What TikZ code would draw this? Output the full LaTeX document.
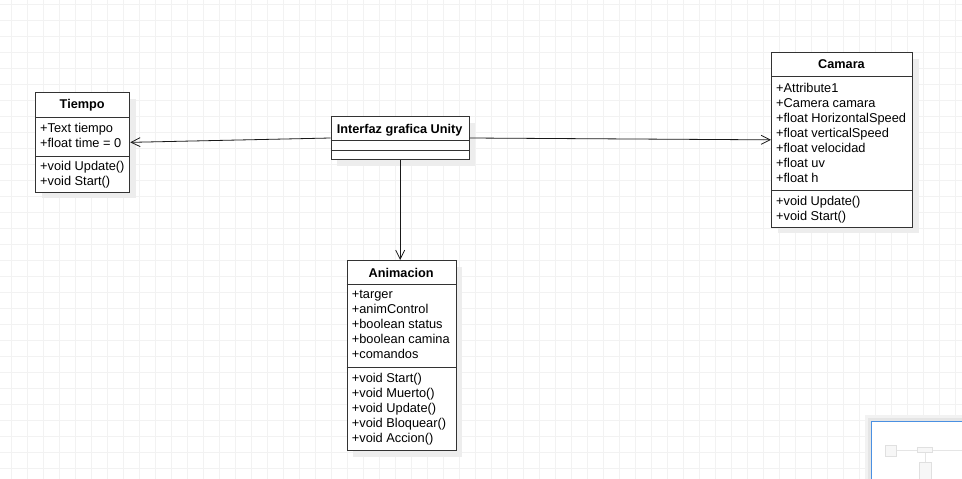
\documentclass[tikz,border=0pt]{standalone}
\usepackage{fontspec}
\setmainfont{Liberation Sans}
\usetikzlibrary{arrows.meta,shadows,calc}

\begin{document}
\begin{tikzpicture}[x=1pt,y=-1pt,
  gridline/.style={draw=black!5, line width=1pt},
  classbox/.style={draw=black!80, line width=1pt, fill=white, inner sep=0pt, anchor=north west,
    drop shadow={shadow xshift=6pt, shadow yshift=-6pt, fill=black!7, opacity=1}},
  sepline/.style={draw=black!80, line width=1pt},
  member/.style={inner sep=0pt, anchor=west, text height=9pt, text depth=0pt,
    font=\fontsize{12.8}{15}\selectfont},
  classname/.style={inner sep=0pt, text height=9pt, text depth=0pt,
    font=\fontsize{12.7}{15}\selectfont\bfseries},
  assoc/.style={draw=black!90, line width=0.8pt, -{Straight Barb[length=9pt,width=9pt]}},
  minibox/.style={draw=black!12, fill=black!3, line width=0.5pt},
  miniline/.style={draw=black!10, line width=0.6pt}]

\useasboundingbox (0,0) rectangle (962,479);
\clip (0,0) rectangle (962,479);

% background grid
\fill[white] (0,0) rectangle (962,479);
\foreach \x in {11.5,27.5,...,955.5} \draw[gridline] (\x,0) -- (\x,479);
\foreach \y in {4,20,...,468} \draw[gridline] (0,\y) -- (962,\y);

% ---- Tiempo ----
\node[classbox, minimum width=94.3pt, minimum height=99.7pt] (tiempo) at (35,92) {};
\draw[sepline] (35,117.3) -- (129.3,117.3);
\draw[sepline] (35,156) -- (129.3,156);
\node[classname] (tiempo-t) at (82.2,104.3) {Tiempo};
\foreach \t [count=\i, evaluate=\i as \yy using 127.5+15*(\i-1)] in {+Text tiempo,+float time = 0}
  \node[member] (tiempo-a\i) at (40,\yy) {\t};
\foreach \t [count=\i, evaluate=\i as \yy using 165.5+15*(\i-1)] in {+void Update(),+void Start()}
  \node[member] (tiempo-m\i) at (40,\yy) {\t};

% ---- Interfaz grafica Unity ----
\node[classbox, minimum width=138pt, minimum height=43pt] (interfaz) at (330.7,116) {};
\draw[sepline] (330.7,140.3) -- (468.7,140.3);
\draw[sepline] (330.7,150.3) -- (468.7,150.3);
\node[classname] (interfaz-t) at (399.7,128.5) {Interfaz grafica Unity};

% ---- Camara ----
\node[classbox, minimum width=141pt, minimum height=174.7pt] (camara) at (771,52) {};
\draw[sepline] (771,76.7) -- (912,76.7);
\draw[sepline] (771,190) -- (912,190);
\node[classname] (camara-t) at (841.5,64.3) {Camara};
\foreach \t [count=\i, evaluate=\i as \yy using 88+15*(\i-1)] in
  {+Attribute1,+Camera camara,+float HorizontalSpeed,+float verticalSpeed,+float velocidad,+float uv,+float h}
  \node[member] (camara-a\i) at (776,\yy) {\t};
\foreach \t [count=\i, evaluate=\i as \yy using 200.5+15*(\i-1)] in {+void Update(),+void Start()}
  \node[member] (camara-m\i) at (776,\yy) {\t};

% ---- Animacion ----
\node[classbox, minimum width=109pt, minimum height=190pt] (animacion) at (346.7,260) {};
\draw[sepline] (346.7,284.3) -- (455.7,284.3);
\draw[sepline] (346.7,367.3) -- (455.7,367.3);
\node[classname] (animacion-t) at (401.2,272.7) {Animacion};
\foreach \t [count=\i, evaluate=\i as \yy using 294+15*(\i-1)] in
  {+targer,+animControl,+boolean status,+boolean camina,+comandos}
  \node[member] (animacion-a\i) at (351.7,\yy) {\t};
\foreach \t [count=\i, evaluate=\i as \yy using 377.5+15*(\i-1)] in
  {+void Start(),+void Muerto(),+void Update(),+void Bloquear(),+void Accion()}
  \node[member] (animacion-m\i) at (351.7,\yy) {\t};

% ---- associations ----
\draw[assoc] (interfaz.west) -- (tiempo.east);
\draw[assoc] (interfaz.east) -- (camara.west);
\draw[assoc] (interfaz.south) -- (interfaz.south |- animacion.north);

% ---- overview panel ----
\fill[black!5] (865,415) rectangle (972,492);
\fill[black!10] (868,418) rectangle (970,490);
\filldraw[fill=white, draw={rgb,255:red,74;green,144;blue,226}, line width=1.5pt] (871.5,421.5) rectangle (975,495);
\draw[miniline] (896,450) -- (917,450);
\draw[miniline] (932.7,450) -- (962,450);
\draw[miniline] (925,452.7) -- (925,462.7);
\draw[minibox] (885.7,445) rectangle (896,456.7);
\draw[minibox] (917,447.3) rectangle (932.7,452.7);
\draw[minibox] (919.3,462.7) rectangle (931,485);
\end{tikzpicture}
\end{document}
